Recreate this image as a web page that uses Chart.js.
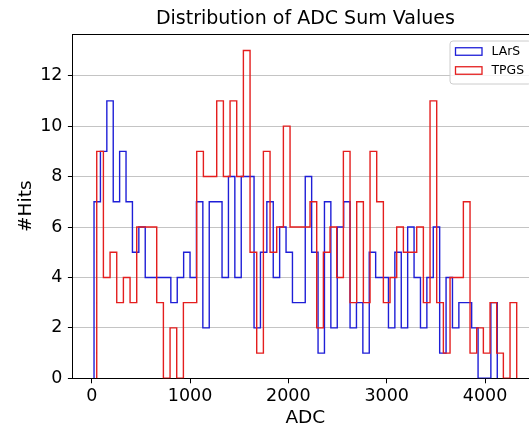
<!DOCTYPE html>
<html>
<head>
<meta charset="utf-8">
<title>Distribution of ADC Sum Values</title>
<script src="https://cdn.jsdelivr.net/npm/chart.js@4.4.1/dist/chart.umd.min.js"></script>
<style>
  html, body { margin: 0; padding: 0; background: #fff; overflow: hidden; }
  canvas { display: block; }
</style>
</head>
<body>
<canvas id="adcChart" width="560" height="427"></canvas>
<script>
// Histogram data (63 bins per series)
const larsStart = 23.4;
const larsBinWidth = 65.1;
const larsCounts = [
    7, 9, 11, 7, 9, 7, 5, 6, 4, 4, 4, 4, 3, 4, 5, 4, 7, 2, 7, 7, 4,
    8, 4, 8, 8, 2, 5, 7, 4, 6, 5, 3, 3, 8, 5, 1, 7, 2, 6, 7, 2, 3,
    1, 5, 4, 4, 2, 5, 2, 6, 4, 2, 4, 6, 1, 4, 2, 3, 3, 2, 0, 0, 3
];

const tpgsStart = 50.9;
const tpgsBinWidth = 67.8;
const tpgsCounts = [
    9, 4, 5, 3, 4, 3, 6, 6, 6, 3, 0, 2, 0, 3, 3, 9, 8, 8, 11, 8, 11,
    8, 13, 5, 1, 9, 5, 6, 10, 6, 6, 6, 7, 2, 5, 6, 4, 9, 3, 7, 3, 9,
    7, 3, 4, 6, 5, 5, 6, 3, 11, 3, 1, 4, 4, 7, 1, 2, 1, 3, 1, 0, 3
];

const seriesLabels = ['LArS', 'TPGS'];
const seriesColors = ['rgb(30, 30, 215)', 'rgb(228, 30, 30)'];

const xTicks = [0, 1000, 2000, 3000, 4000];
const yTicks = [0, 2, 4, 6, 8, 10, 12];

// axis limits (matplotlib style 5% margin on x)
const X_MIN = -191.5;
const X_MAX = 4536.9;
const Y_MAX = 13.65;

const FONT = "'DejaVu Sans', sans-serif";
Chart.defaults.font.family = FONT;

// outline of a step histogram: up at first edge, flat over each bin, down at last edge
function stepPoints(start, width, counts) {
    const pts = [{ x: start, y: 0 }];
    counts.forEach((c, i) => {
        pts.push({ x: start + i * width, y: c });
        pts.push({ x: start + (i + 1) * width, y: c });
    });
    pts.push({ x: start + counts.length * width, y: 0 });
    return pts;
}

// top spine + matplotlib-like legend box in the upper right
const frameAndLegend = {
    id: 'frameAndLegend',
    afterDraw(chart) {
        const { ctx, chartArea } = chart;
        ctx.save();
        ctx.strokeStyle = '#000';
        ctx.lineWidth = 1;
        ctx.beginPath();
        ctx.moveTo(chartArea.left, Math.round(chartArea.top) + 0.5);
        ctx.lineTo(chartArea.right, Math.round(chartArea.top) + 0.5);
        ctx.stroke();

        const left = chartArea.right - 88.3;
        const top = chartArea.top + 6.4;
        const w = 81.3, h = 43;
        ctx.beginPath();
        ctx.roundRect(left + 0.5, top + 0.5, w, h, 3);
        ctx.fillStyle = 'rgba(255,255,255,0.8)';
        ctx.fill();
        ctx.strokeStyle = '#cccccc';
        ctx.stroke();

        ctx.font = '12.4px ' + FONT;
        ctx.textBaseline = 'middle';
        chart.data.datasets.forEach((ds, i) => {
            const cy = top + 11 + i * 19;
            ctx.strokeStyle = ds.borderColor;
            ctx.lineWidth = 1.3;
            ctx.strokeRect(left + 6, cy - 3.75, 26.5, 7.5);
            ctx.fillStyle = '#000';
            ctx.fillText(ds.label, left + 42, cy);
        });
        ctx.restore();
    }
};

new Chart(document.getElementById('adcChart'), {
    type: 'line',
    data: {
        datasets: [
            {
                label: seriesLabels[0],
                data: stepPoints(larsStart, larsBinWidth, larsCounts),
                borderColor: seriesColors[0],
                borderWidth: 1.4,
                pointRadius: 0,
                tension: 0,
                fill: false,
                order: 1
            },
            {
                label: seriesLabels[1],
                data: stepPoints(tpgsStart, tpgsBinWidth, tpgsCounts),
                borderColor: seriesColors[1],
                borderWidth: 1.4,
                pointRadius: 0,
                tension: 0,
                fill: false,
                order: 0
            }
        ]
    },
    options: {
        responsive: false,
        animation: false,
        devicePixelRatio: 1,
        layout: { padding: { left: 0, right: 560 - 537.8, top: 0, bottom: 0 } },
        plugins: {
            legend: { display: false },
            tooltip: { enabled: false },
            title: {
                display: true,
                text: 'Distribution of ADC Sum Values',
                fullSize: false,
                color: '#000',
                font: { size: 19, weight: 'normal', lineHeight: 1.2 },
                padding: { top: 8.1, bottom: 3.2 }
            }
        },
        scales: {
            x: {
                type: 'linear',
                min: X_MIN,
                max: X_MAX,
                afterBuildTicks: s => { s.ticks = xTicks.map(v => ({ value: v })); },
                afterFit: s => { s.height = 48.7; },
                grid: { drawOnChartArea: false, tickLength: 5, tickColor: '#000', tickWidth: 1 },
                border: { color: '#000', width: 1 },
                ticks: {
                    color: '#000', font: { size: 17.5 }, padding: 3,
                    maxRotation: 0, autoSkip: false,
                    callback: v => String(v)
                },
                title: {
                    display: true, text: 'ADC', color: '#000',
                    font: { size: 18.5, lineHeight: 1 },
                    padding: { top: 0, bottom: 0 }
                }
            },
            y: {
                type: 'linear',
                min: 0,
                max: Y_MAX,
                afterBuildTicks: s => { s.ticks = yTicks.map(v => ({ value: v })); },
                afterFit: s => { s.width = 72.9; },
                grid: { color: '#c4c4c4', lineWidth: 1, tickLength: 5, tickColor: '#000', tickWidth: 1 },
                border: { color: '#000', width: 1 },
                ticks: { color: '#000', font: { size: 17.5 }, padding: 5.4, callback: v => String(v) },
                title: {
                    display: true, text: '#Hits', color: '#000',
                    font: { size: 18.5, lineHeight: 1.2 },
                    padding: { top: 15, bottom: 0 }
                }
            }
        }
    },
    plugins: [frameAndLegend]
});
</script>
</body>
</html>
